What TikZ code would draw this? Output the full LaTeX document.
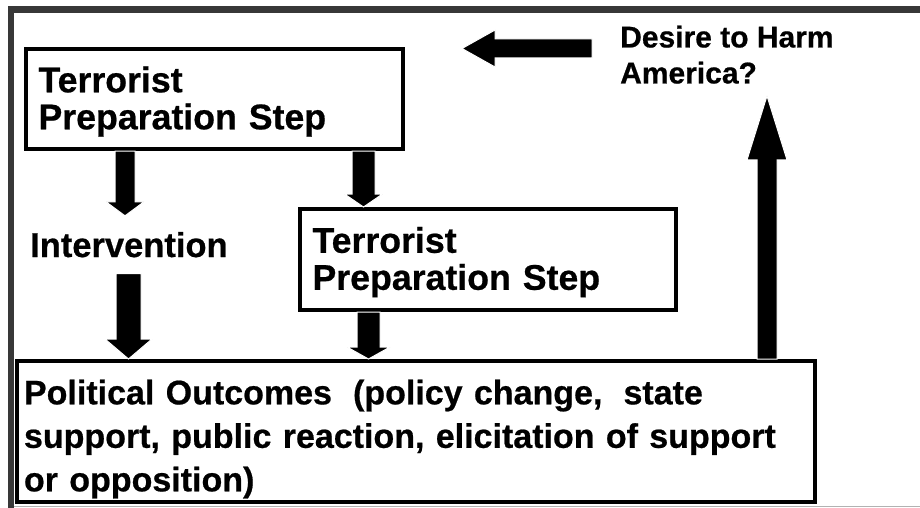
\documentclass[tikz,border=0pt]{standalone}
\usepackage{fontspec}
\setmainfont{Liberation Sans}[BoldFeatures={FakeBold=0.6}]
\usetikzlibrary{calc}
\begin{document}
\begin{tikzpicture}[x=1pt,y=1pt,
  stepbox/.style={draw=black, line width=4pt, anchor=north west, align=left,
    inner xsep=12.5pt, font=\fontsize{35.7}{37}\selectfont\bfseries},
  plaintext/.style={inner sep=0pt, align=left},
  % filled block arrow: shaft width, head width, head length
  blockarrow/.style n args={3}{to path={
    let \p1=(\tikztostart), \p2=(\tikztotarget),
        \n1={atan2(\y2-\y1,\x2-\x1)}, \n2={veclen(\x2-\x1,\y2-\y1)} in
    {[shift={(\p1)}, rotate=\n1]
     (0,#1/2) -- ({\n2-#3},#1/2) -- ({\n2-#3},#2/2) -- (\n2,0)
     -- ({\n2-#3},-#2/2) -- ({\n2-#3},-#1/2) -- (0,-#1/2) -- cycle}}},
  fat/.style={fill=black, draw=white, line width=1pt, line join=miter}
]
\useasboundingbox (0,0) rectangle (920,-508);

% page frame
\fill[black!78] (8,-6) rectangle (920,-13);
\fill[black!78] (8,-6) rectangle (14,-508);
\draw[black!30, line width=1.5pt] (14,-506.5) -- (920,-506.5);

% boxes and labels
\node[stepbox, minimum height=100pt, text width=352pt] (prep1) at (24,-47)
  {\rule{0pt}{31pt}Terrorist\\Preparation Step};
\node[stepbox, minimum height=101pt, text width=351pt] (prep2) at (298,-207)
  {\rule{0pt}{31pt}Terrorist\\Preparation Step};
\node[stepbox, minimum height=140pt, text width=784pt, inner xsep=7pt,
      font=\fontsize{34}{43.5}\selectfont\bfseries] (outcome) at (15,-359)
  {\rule{0pt}{40pt}Political Outcomes\hspace{0.62em}(policy change,\hspace{0.62em}state\\
   support, public reaction, elicitation of support\\
   or opposition)};
\node[plaintext, anchor=base west, inner ysep=16pt,
      font=\fontsize{34.5}{40}\selectfont\bfseries] (interv) at (30,-257) {Intervention};
\node[plaintext, anchor=north west, inner xsep=28pt, inner ysep=12pt,
      font=\fontsize{30}{36}\selectfont\bfseries] (harm) at (592,-13.5)
  {Desire to Harm\\America?};

% arrow positions
\coordinate (xa) at (125,0);
\coordinate (xb) at (128.5,0);
\coordinate (xc) at (363.5,0);
\coordinate (xd) at (368.5,0);
\coordinate (xe) at (767,0);
\coordinate (harmtip) at (462,-48.5);

% connectors
\path[fat] (prep1.south -| xa) to[blockarrow={20}{38}{14}] (interv.north -| xa);
\path[fat] (interv.south -| xb) to[blockarrow={25}{47}{20}] (outcome.north -| xb);
\path[fat] (prep1.south -| xc) to[blockarrow={23}{38}{13}] (prep2.north -| xc);
\path[fat] (prep2.south -| xd) to[blockarrow={23}{43}{12}] (outcome.north -| xd);
\path[fat] (outcome.north -| xe) to[blockarrow={20}{40}{64}] (harm.south -| xe);
\path[fat] (harm.west |- harmtip) to[blockarrow={19}{37}{33}] (harmtip);
\end{tikzpicture}
\end{document}
